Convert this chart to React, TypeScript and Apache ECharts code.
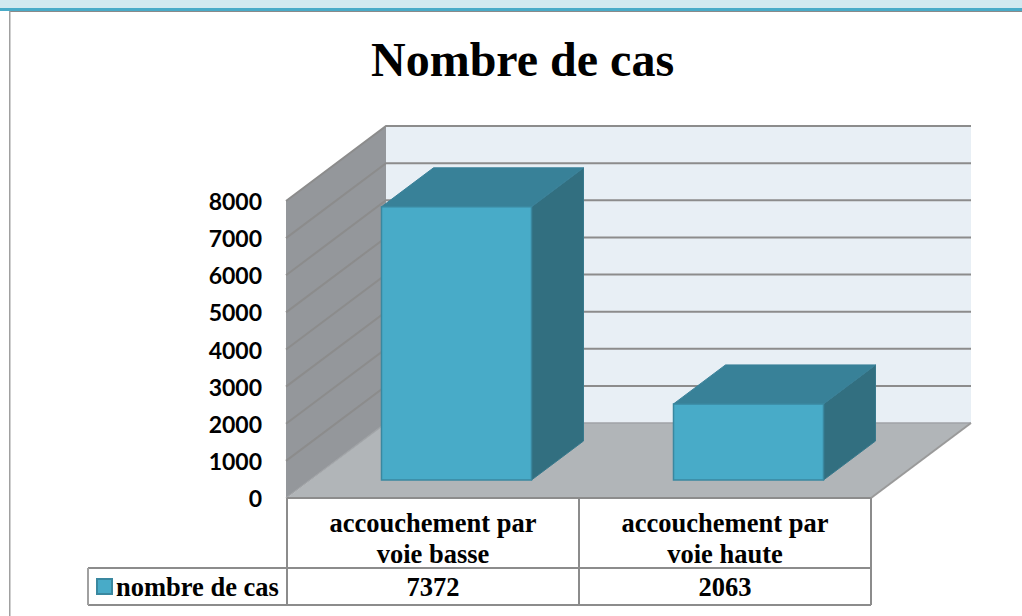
import React, { useEffect, useRef } from "react";
import * as echarts from "echarts";

const categories = ["accouchement par\nvoie basse", "accouchement par\nvoie haute"];
const seriesName = "nombre de cas";
const values = [7372, 2063];
const ticks = [0, 1000, 2000, 3000, 4000, 5000, 6000, 7000, 8000];

const SERIF = '"Liberation Serif", serif';
const DXL = 99, DXR = 100, DY = -75;
const BAR_OFF_X = 23.5, BAR_OFF_Y = -18, BAR_HALF = 75, BAR_DX = 52, BAR_DY = -39;
const LINE = "#8c8c8c";

function renderFrame(params: any, api: any) {
  const { x, y, width: w, height: h } = params.coordSys;
  const b = y + h, r = x + w;
  const bl = x + DXL, br = r + DXR;
  const children: any[] = [
    { type: "polygon", shape: { points: [[bl, y + DY], [br, y + DY], [br, b + DY], [bl, b + DY]] }, style: { fill: "#e8eff5" } },
    { type: "polygon", shape: { points: [[x - 1, y], [bl, y + DY], [bl, b + DY], [x - 1, b]] }, style: { fill: "#94979b" } },
    { type: "polygon", shape: { points: [[x, b], [r, b], [br, b + DY], [bl, b + DY]] }, style: { fill: "#b1b5b8" } },
  ];
  ticks.forEach((t) => {
    const ty = api.coord([0, t])[1];
    const isBase = t === 0;
    children.push({ type: "polyline", shape: { points: [[x - 1, ty], [bl, ty + DY], [br, ty + DY]] }, style: { fill: "none", stroke: isBase ? "#a0a3a6" : LINE, lineWidth: isBase ? 1.5 : 2 } });
  });
  children.push(
    { type: "line", shape: { x1: x, y1: b, x2: r, y2: b }, style: { stroke: LINE, lineWidth: 2 } },
    { type: "line", shape: { x1: r, y1: b, x2: br, y2: b + DY }, style: { stroke: "#9a9a9a", lineWidth: 2 } },
  );
  return { type: "group", children };
}

function renderBar(params: any, api: any) {
  const i = api.value(0);
  const v = api.value(1);
  const top = api.coord([i, v]);
  const base = api.coord([i, 0]);
  const cx = top[0] + BAR_OFF_X;
  const l = cx - BAR_HALF, r = cx + BAR_HALF;
  const t = top[1] + BAR_OFF_Y + 0.5, b = base[1] + BAR_OFF_Y;
  const edge = "#3a88a0";
  return {
    type: "group",
    children: [
      { type: "polygon", shape: { points: [[r, t], [r + BAR_DX, t + BAR_DY], [r + BAR_DX, b + BAR_DY], [r, b]] }, style: { fill: "#326f80", stroke: "#38798c", lineWidth: 1 } },
      { type: "polygon", shape: { points: [[l, t], [l + BAR_DX, t + BAR_DY], [r + BAR_DX, t + BAR_DY], [r, t]] }, style: { fill: "#388198", stroke: "#3a8199", lineWidth: 1 } },
      { type: "rect", shape: { x: l, y: t, width: r - l, height: b - t }, style: { fill: "#48abc8", stroke: edge, lineWidth: 1.5 } },
      { type: "text", style: { x: top[0], y: 587, text: String(v), align: "center", verticalAlign: "middle", font: `bold 26.5px ${SERIF}`, fill: "#000" } },
    ],
  };
}

const tableLine = (x1: number, y1: number, x2: number, y2: number, stroke = LINE) => ({
  type: "line", z: 3, shape: { x1, y1, x2, y2 }, style: { stroke, lineWidth: 2 },
});

export default function App() {
  const ref = useRef<HTMLDivElement>(null);
  useEffect(() => {
    const chart = echarts.init(ref.current!, null, { renderer: "svg" });
    chart.setOption({
      animation: false,
      backgroundColor: "#fff",
      title: {
        text: "Nombre de cas", left: 366, top: 30,
        textStyle: { fontFamily: SERIF, fontWeight: "bold", fontSize: 48, color: "#000" },
      },
      grid: { left: 287, top: 201, width: 584, height: 297 },
      legend: {
        data: [seriesName], left: 96, top: 573, padding: 0, itemWidth: 15, itemHeight: 15, itemGap: 0,
        icon: "rect", selectedMode: false,
        textStyle: { fontFamily: SERIF, fontWeight: "bold", fontSize: 26.5, color: "#000", padding: [0, 0, 0, -1] },
      },
      xAxis: {
        type: "category", data: categories,
        axisLine: { show: false }, axisTick: { show: false }, splitLine: { show: false },
        axisLabel: { interval: 0, margin: 9, fontFamily: SERIF, fontWeight: "bold", fontSize: 26.5, lineHeight: 31, color: "#000", align: "center" },
      },
      yAxis: {
        type: "value", min: 0, max: 8000, interval: 1000,
        axisLine: { show: false }, axisTick: { show: false }, splitLine: { show: false },
        axisLabel: { margin: 25, padding: [2, 0, 0, 0], fontFamily: "Lato", fontWeight: "bold", fontSize: 23, color: "#000", formatter: (v: number) => String(v) },
      },
      series: [
        { type: "custom", name: "frame", z: 1, silent: true, data: [[0, 0]], renderItem: renderFrame, clip: false },
        {
          type: "custom", name: seriesName, z: 2, clip: false,
          itemStyle: { color: "#48abc8", borderColor: "#3a88a0", borderWidth: 1.5 },
          data: values.map((v, i) => [i, v]), renderItem: renderBar,
        },
      ],
      graphic: [
        { type: "rect", z: 0, shape: { x: 0, y: 0, width: 1022, height: 8 }, style: { fill: "#d2e9f0" } },
        { type: "rect", z: 0, shape: { x: 0, y: 8, width: 1022, height: 3 }, style: { fill: "#4aabc8" } },
        { type: "rect", z: 0, shape: { x: 9, y: 11, width: 1013, height: 1 }, style: { fill: "#8a8a8a" } },
        { type: "rect", z: 0, shape: { x: 9, y: 11, width: 1.5, height: 605 }, style: { fill: "#a0a0a0" } },
        tableLine(88, 568, 871, 568),
        tableLine(88, 605, 871, 605),
        tableLine(88, 568, 88, 605, "#a0a0a0"),
        tableLine(287, 498, 287, 605),
        tableLine(579, 498, 579, 605),
        tableLine(871, 498, 871, 605),
      ],
    });
    return () => chart.dispose();
  }, []);
  return <div ref={ref} style={{ position: "fixed", left: 0, top: 0, width: 1022, height: 616 }} />;
}
